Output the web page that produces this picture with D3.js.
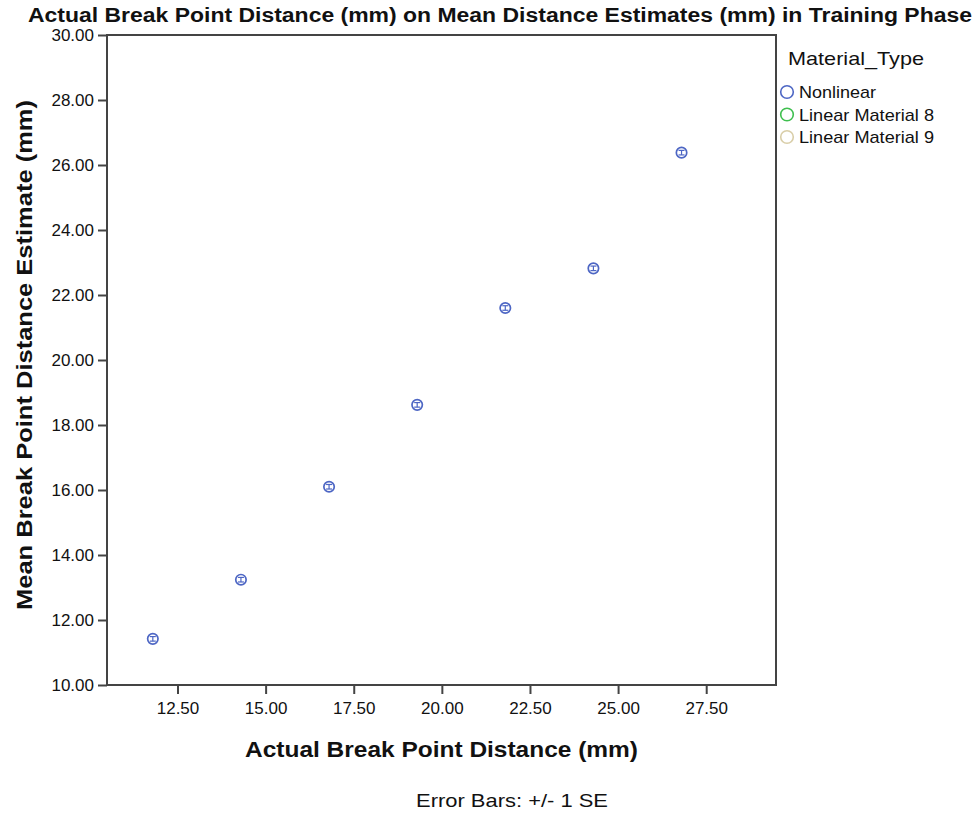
<!DOCTYPE html>
<html lang="en">
<head>
  <meta charset="UTF-8" />
  <title>Actual Break Point Distance on Mean Distance Estimates</title>
  <script src="https://d3js.org/d3.v7.min.js"></script>
  <style>
    body { margin: 0; background: #fff; }
    svg text { font-family: "Liberation Sans", Arial, sans-serif; fill: #111; }
    .tick text { font-size: 17px; }
    .axis path, .axis line { stroke: #444; stroke-width: 2px; }
  </style>
</head>
<body>
  <div id="chart"></div>
  <script>
    const actualDistance = [11.8, 14.3, 16.8, 19.3, 21.8, 24.3, 26.8];
    const meanEstimate = [11.42, 13.24, 16.10, 18.62, 21.60, 22.82, 26.38];
    const seEstimate = [0.07, 0.07, 0.07, 0.07, 0.07, 0.07, 0.07];
    const xTicks = [12.5, 15, 17.5, 20, 22.5, 25, 27.5];
    const yTicks = [10, 12, 14, 16, 18, 20, 22, 24, 26, 28, 30];
    const legendLabels = ['Nonlinear', 'Linear Material 8', 'Linear Material 9'];
    const legendWidths = [77, 135, 135];
    const legendColors = ['#4d66c4', '#3fbf4f', '#d9cea8'];

    const W = 977, H = 817;
    const plot = { left: 107, right: 776, top: 35, bottom: 685 };

    const svg = d3.select('#chart').append('svg')
      .attr('width', W).attr('height', H);

    const x = d3.scaleLinear().domain([10.5, 29.48]).range([plot.left, plot.right]);
    const y = d3.scaleLinear().domain([10, 30]).range([plot.bottom, plot.top]);

    // frame
    svg.append('rect')
      .attr('x', plot.left).attr('y', plot.top)
      .attr('width', plot.right - plot.left).attr('height', plot.bottom - plot.top)
      .attr('fill', 'none').attr('stroke', '#444').attr('stroke-width', 2);

    svg.append('g')
      .attr('class', 'axis')
      .attr('transform', `translate(0,${plot.bottom})`)
      .call(d3.axisBottom(x).tickValues(xTicks).tickSize(9).tickPadding(8).tickFormat(d3.format('.2f')))
      .call(g => g.select('.domain').remove());

    svg.append('g')
      .attr('class', 'axis')
      .attr('transform', `translate(${plot.left},0)`)
      .call(d3.axisLeft(y).tickValues(yTicks).tickSize(9).tickPadding(4).tickFormat(d3.format('.2f')))
      .call(g => g.select('.domain').remove());

    svg.selectAll('.tick text').attr('fill', '#111');

    // points with error bars
    const pts = actualDistance.map((d, i) => ({ x: d, y: meanEstimate[i], se: seEstimate[i] }));
    const marks = svg.append('g').selectAll('g').data(pts).join('g');
    marks.append('circle')
      .attr('cx', d => x(d.x)).attr('cy', d => y(d.y)).attr('r', 5.2)
      .attr('fill', 'none').attr('stroke', legendColors[0]).attr('stroke-width', 1.7);
    marks.append('line')
      .attr('x1', d => x(d.x)).attr('x2', d => x(d.x))
      .attr('y1', d => y(d.y - d.se)).attr('y2', d => y(d.y + d.se))
      .attr('stroke', legendColors[0]).attr('stroke-width', 1.2);
    [-1, 1].forEach(s => {
      marks.append('line')
        .attr('x1', d => x(d.x) - 3).attr('x2', d => x(d.x) + 3)
        .attr('y1', d => y(d.y + s * d.se)).attr('y2', d => y(d.y + s * d.se))
        .attr('stroke', legendColors[0]).attr('stroke-width', 1.2);
    });

    // title
    svg.append('text')
      .attr('x', 28).attr('y', 22)
      .attr('textLength', 944).attr('lengthAdjust', 'spacingAndGlyphs')
      .style('font-family', '"Liberation Sans Narrow", "Liberation Sans", Arial, sans-serif')
      .attr('font-size', 20).attr('font-weight', 'bold')
      .text('Actual Break Point Distance (mm) on Mean Distance Estimates (mm) in Training Phase');

    // axis titles
    svg.append('text')
      .attr('x', 245).attr('y', 757)
      .attr('textLength', 393).attr('lengthAdjust', 'spacingAndGlyphs')
      .attr('font-size', 22).attr('font-weight', 'bold')
      .text('Actual Break Point Distance (mm)');

    svg.append('text')
      .attr('transform', 'translate(32,610) rotate(-90)')
      .attr('textLength', 510).attr('lengthAdjust', 'spacingAndGlyphs')
      .attr('font-size', 22).attr('font-weight', 'bold')
      .text('Mean Break Point Distance Estimate (mm)');

    svg.append('text')
      .attr('x', 416).attr('y', 807)
      .attr('textLength', 192).attr('lengthAdjust', 'spacingAndGlyphs')
      .attr('font-size', 19)
      .text('Error Bars: +/- 1 SE');

    // legend
    const legend = svg.append('g');
    legend.append('text')
      .attr('x', 788).attr('y', 65).attr('font-size', 19)
      .attr('textLength', 136).attr('lengthAdjust', 'spacingAndGlyphs')
      .text('Material_Type');
    const items = legend.selectAll('g.item').data(legendLabels).join('g')
      .attr('class', 'item')
      .attr('transform', (d, i) => `translate(787,${92 + i * 22.5})`);
    items.append('circle')
      .attr('r', 6.3).attr('fill', 'none')
      .attr('stroke', (d, i) => legendColors[i]).attr('stroke-width', 1.6);
    items.append('text')
      .attr('x', 12).attr('y', 6).attr('font-size', 17)
      .attr('textLength', (d, i) => legendWidths[i]).attr('lengthAdjust', 'spacingAndGlyphs')
      .text(d => d);
  </script>
</body>
</html>
